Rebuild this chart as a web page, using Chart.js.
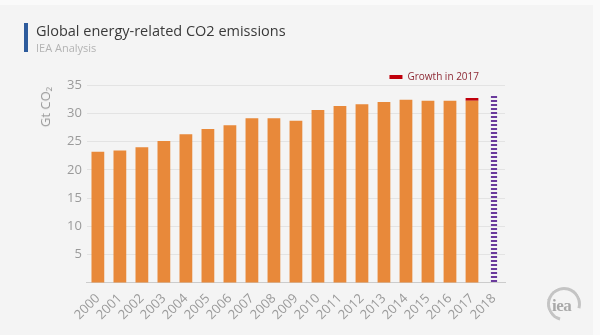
<!DOCTYPE html>
<html>
<head>
<meta charset="utf-8">
<script src="https://cdn.jsdelivr.net/npm/chart.js@4.4.1/dist/chart.umd.min.js"></script>
<style>
  html, body { margin: 0; padding: 0; }
  body { width: 600px; height: 335px; background: #f4f4f4; position: relative; overflow: hidden; font-family: 'Open Sans', sans-serif; }
  .topband { position: absolute; left: 0; top: 0; width: 600px; height: 5px; background: #fafafa; }
  .rightband { position: absolute; right: 0; top: 0; width: 7px; height: 335px; background: #fafafa; }
  .accent { position: absolute; left: 24px; top: 23px; width: 4px; height: 29px; background: #2d5b9c; }
  .title { position: absolute; left: 36px; top: 21px; font-size: 14.5px; color: #3a3a3a; white-space: nowrap; }
  .subtitle { position: absolute; left: 36px; top: 40px; font-size: 11px; color: #b3b3b3; white-space: nowrap; }
  .ytitle { position: absolute; left: 45px; top: 107px; font-size: 13px; color: #9a9a9a; white-space: nowrap; transform: translate(-50%, -50%) rotate(-90deg); }
  #wrap { position: absolute; left: 0; top: 0; width: 600px; height: 335px; }
  .logo { position: absolute; left: 547px; top: 287px; width: 28px; height: 28px; border: 3px solid #c4c4c4; border-radius: 50%; border-right-color: transparent; transform: rotate(60deg); }
  .logo-text { position: absolute; left: 552px; top: 296px; font-family: 'Liberation Serif', serif; font-weight: bold; font-size: 17px; color: #a9a9a9; letter-spacing: -0.5px; }
</style>
</head>
<body>
<div class="topband"></div>
<div class="rightband"></div>
<div id="wrap"><canvas id="co2Chart"></canvas></div>
<div class="accent"></div>
<div class="title">Global energy-related CO2 emissions</div>
<div class="subtitle">IEA Analysis</div>
<div class="ytitle">Gt CO₂</div>
<div class="logo"></div>
<div class="logo-text">iea</div>
<script>
// Annual emissions, Gt CO2
var years = ["2000", "2001", "2002", "2003", "2004", "2005", "2006", "2007", "2008", "2009",
             "2010", "2011", "2012", "2013", "2014", "2015", "2016", "2017", "2018"];
var emissions = [23.2, 23.4, 24.0, 25.1, 26.3, 27.2, 27.9, 29.1, 29.1, 28.7,
                 30.6, 31.3, 31.6, 32.0, 32.4, 32.2, 32.2, 32.2, null];
var growth2017 = [null, null, null, null, null, null, null, null, null, null,
                  null, null, null, null, null, null, null, 0.5, null];
var estimate2018 = [null, null, null, null, null, null, null, null, null, null,
                    null, null, null, null, null, null, null, null, 33.2];
var yTicks = [5, 10, 15, 20, 25, 30, 35];

// striped fill for the 2018 column
function stripes(color) {
  var c = document.createElement("canvas");
  c.width = 4;
  c.height = 4;
  var g = c.getContext("2d");
  g.fillStyle = color;
  g.fillRect(0, 0, 4, 2);
  return g.createPattern(c, "repeat");
}

// legend keeps its wide padding but takes less vertical room
var tightLegend = {
  id: "tightLegend",
  beforeInit: function (chart) {
    var fit = chart.legend.fit;
    chart.legend.fit = function () {
      fit.bind(chart.legend)();
      this.height -= 7;
    };
  },
};

document.addEventListener("DOMContentLoaded", function () {
  Chart.defaults.font.family = "'Open Sans', sans-serif";
  var ctx = document.getElementById("co2Chart").getContext("2d");
  new Chart(ctx, {
    type: "bar",
    data: {
      labels: years,
      datasets: [
        {
          label: "Emissions",
          data: emissions,
          backgroundColor: "#e8893a",
          barPercentage: 0.58,
          categoryPercentage: 1,
        },
        {
          label: "Growth in 2017",
          data: growth2017,
          backgroundColor: "#c0000b",
          barPercentage: 0.58,
          categoryPercentage: 1,
        },
        {
          label: "2018",
          data: estimate2018,
          backgroundColor: stripes("#6a3a9c"),
          barPercentage: 0.28,
          categoryPercentage: 1,
        },
      ],
    },
    plugins: [tightLegend],
    options: {
      responsive: true,
      maintainAspectRatio: false,
      animation: false,
      layout: { padding: { left: 62, top: 46, right: 95, bottom: 12 } },
      plugins: {
        legend: {
          display: true,
          position: "top",
          align: "end",
          labels: {
            filter: function (item) { return item.text === "Growth in 2017"; },
            boxWidth: 13,
            boxHeight: 4,
            color: "#8e2a35",
            font: { size: 10 },
            padding: 26,
          },
        },
        tooltip: { enabled: false },
      },
      scales: {
        x: {
          stacked: true,
          grid: { display: false },
          border: { color: "#cccccc" },
          ticks: { color: "#9a9a9a", font: { size: 13 }, autoSkip: false, minRotation: 45, maxRotation: 45, padding: 0 },
        },
        y: {
          stacked: true,
          min: 0,
          max: 35,
          border: { display: false },
          grid: { color: "#e3e3e3", drawTicks: false },
          afterBuildTicks: function (axis) {
            axis.ticks = [{ value: 0 }].concat(yTicks.map(function (v) { return { value: v }; }));
          },
          ticks: {
            color: "#9a9a9a",
            font: { size: 13 },
            padding: 5,
            callback: function (v) { return v === 0 ? "" : v; },
          },
        },
      },
    },
  });
});
</script>
</body>
</html>
